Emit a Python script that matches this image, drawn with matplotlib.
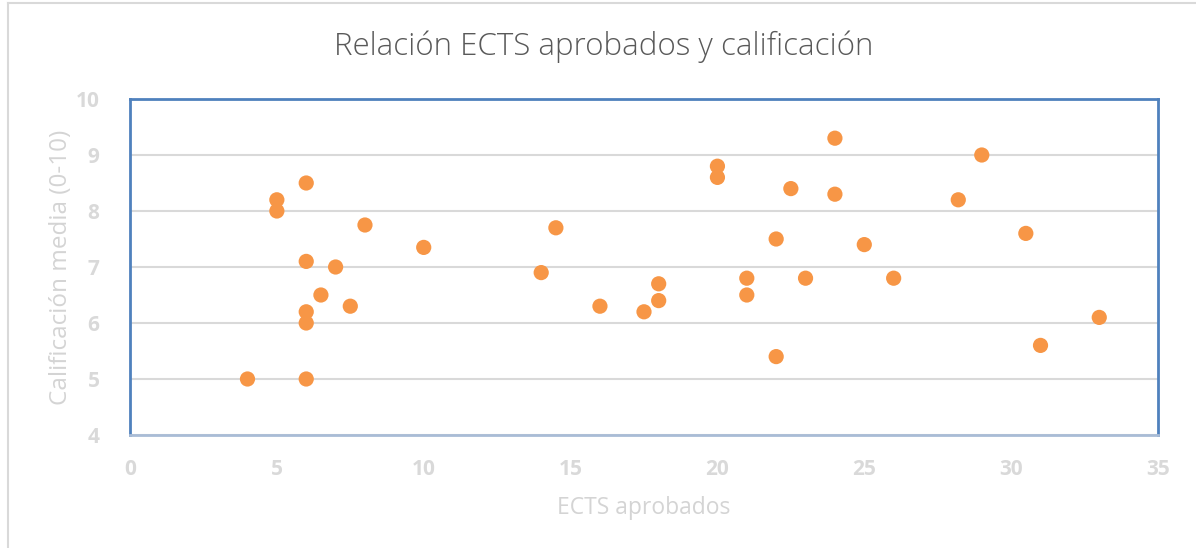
import matplotlib
matplotlib.use('Agg')
import matplotlib.pyplot as plt
from matplotlib.lines import Line2D

# ECTS aprobados vs calificacion media
ects = [4, 5, 5, 6, 6, 6, 6, 6, 6.5, 7, 7.5, 8, 10, 14, 14.5, 16, 17.5, 18, 18,
        20, 20, 21, 21, 22, 22, 22.5, 23, 24, 24, 25, 26, 28.2, 29, 30.5, 31, 33]
nota = [5.0, 8.2, 8.0, 8.5, 7.1, 6.2, 6.0, 5.0, 6.5, 7.0, 6.3, 7.75, 7.35, 6.9, 7.7, 6.3, 6.2, 6.7, 6.4,
        8.8, 8.6, 6.8, 6.5, 7.5, 5.4, 8.4, 6.8, 9.3, 8.3, 7.4, 6.8, 8.2, 9.0, 7.6, 5.6, 6.1]

xticks = [0, 5, 10, 15, 20, 25, 30, 35]
yticks = [4, 5, 6, 7, 8, 9, 10]

plt.rcParams['font.family'] = ['Open Sans', 'DejaVu Sans']

fig = plt.figure(figsize=(11.96, 5.48), dpi=100)
ax = fig.add_axes([130 / 1196, 1 - 435 / 548, 1028 / 1196, 336 / 548])

ax.scatter(ects, nota, s=120, color='#F79646', edgecolors='none', zorder=3, clip_on=False)

ax.set_xlim(0, 35)
ax.set_ylim(4, 10)
ax.set_xticks(xticks)
ax.set_yticks(yticks)
ax.yaxis.grid(True, color='#D9D9D9', linewidth=1.5)
ax.set_axisbelow(True)
ax.tick_params(length=0, colors='#D9D9D9', labelsize=15)
ax.tick_params(axis='y', pad=22)
ax.tick_params(axis='x', pad=17)
for lab in ax.get_xticklabels() + ax.get_yticklabels():
    lab.set_fontweight('bold')

for s in ax.spines.values():
    s.set_color('#4F81BD')
    s.set_linewidth(2)
ax.spines['bottom'].set_color('#A9BCD6')

ax.set_xlabel('ECTS aprobados', color='#D4D4D4', fontsize=16.5, labelpad=12)
ax.set_ylabel('Calificación media (0-10)', color='#D4D4D4', fontsize=17.5, labelpad=2)

fig.text(0.505, 0.915, 'Relación ECTS aprobados y calificación', ha='center', va='center',
         fontsize=22.5, color='#595959', fontweight='light')

# outer chart border (only top and left visible)
fig.add_artist(Line2D([8 / 1196, 1], [1 - 3 / 548, 1 - 3 / 548], color='#D9D9D9', linewidth=1.5))
fig.add_artist(Line2D([8 / 1196, 8 / 1196], [0, 1 - 3 / 548], color='#D9D9D9', linewidth=1.5))

fig.savefig('out.png', dpi=100, facecolor='white')
plt.close(fig)
